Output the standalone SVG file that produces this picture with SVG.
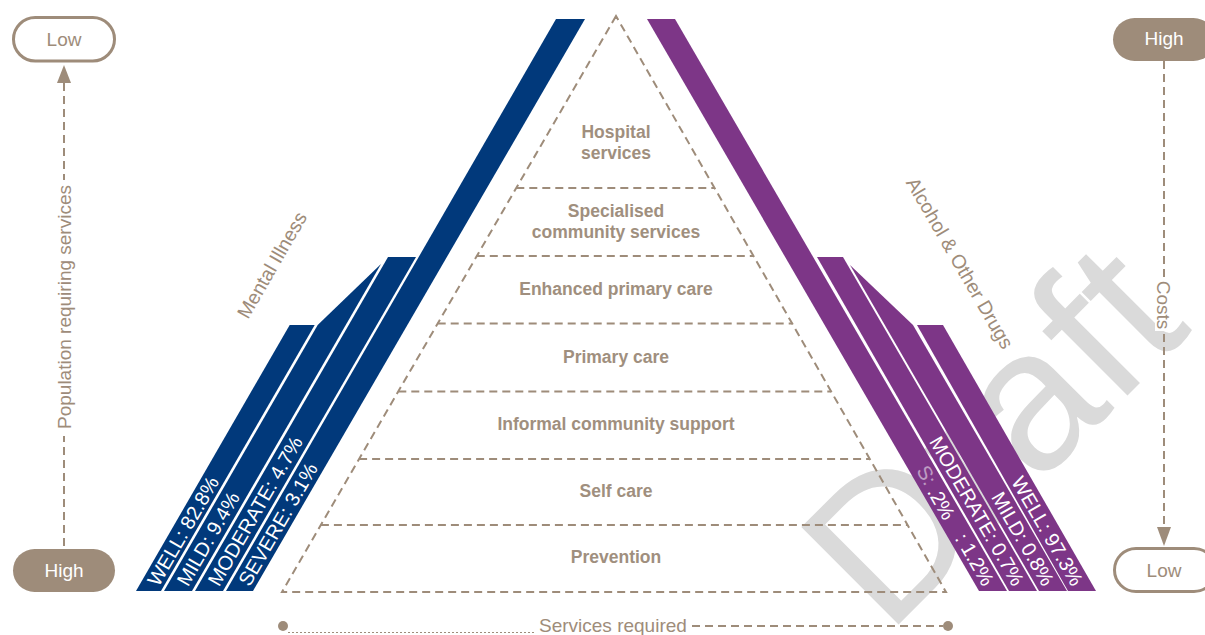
<svg xmlns="http://www.w3.org/2000/svg" width="1205" height="635" viewBox="0 0 1205 635">
<defs>
<style>
.ax{font-family:"Liberation Sans",Arial,sans-serif;font-size:19px;fill:#9e8c7a}
.tier{font-family:"Liberation Sans",Arial,sans-serif;font-size:17.5px;font-weight:bold;fill:#a08f7e;text-anchor:middle}
.dash{fill:none;stroke:#9e8c7a;stroke-width:2;stroke-dasharray:8 5}
.blue{fill:#01397b}
.purple{fill:#7d3687}
.bt{font-family:"Liberation Sans",Arial,sans-serif;font-size:20px;fill:#ffffff}
.wm{font-family:"Liberation Sans",Arial,sans-serif;font-size:200px;fill:#dadada}
</style>
</defs>
<rect width="1205" height="635" fill="#ffffff"/>
<g id="watermark">
<text class="wm" x="887" y="636" transform="rotate(-45 887 636)">Draft</text>
</g>
<g id="pyramid">
<path class="dash" d="M616,16 L282,592 L946,592 Z"/>
<path class="dash" d="M516.3,188H714.5 M476.8,256H753.5 M437.7,323.5H792.2 M398.3,391.5H831.1 M359.1,459H869.8 M320.9,525H907.6"/>
</g>
<g id="tiers">
<text class="tier" x="616" y="138">Hospital</text>
<text class="tier" x="616" y="159">services</text>
<text class="tier" x="616" y="217">Specialised</text>
<text class="tier" x="616" y="238">community services</text>
<text class="tier" x="616" y="295">Enhanced primary care</text>
<text class="tier" x="616" y="363">Primary care</text>
<text class="tier" x="616" y="430">Informal community support</text>
<text class="tier" x="616" y="497">Self care</text>
<text class="tier" x="616" y="563">Prevention</text>
</g>
<g id="mental-illness">
<polygon class="blue" points="136,591 161,591 314.7,325 289.7,325"/>
<polygon class="blue" points="164,591 192,591 381,264 317.7,325"/>
<polygon class="blue" points="195,591 223,591 416,257 388,257"/>
<polygon class="blue" points="226,591 253,591 585,19 556,19"/>
<text class="bt" transform="translate(152.5,584) rotate(-60)" dy="0.35em">WELL: 82.8%</text>
<text class="bt" transform="translate(182,584) rotate(-60)" dy="0.35em">MILD: 9.4%</text>
<text class="bt" transform="translate(213,584) rotate(-60)" dy="0.35em">MODERATE: 4.7%</text>
<text class="bt" transform="translate(243.5,584) rotate(-60)" dy="0.35em">SEVERE: 3.1%</text>
<text class="ax" style="font-size:19.5px" text-anchor="middle" transform="translate(272,265) rotate(-60)" dy="0.35em">Mental Illness</text>
</g>
<g id="alcohol-drugs">
<polygon class="purple" points="647,19 675,19 1007,591 979,591"/>
<polygon class="purple" points="817,257 843,257 1037,591 1009,591"/>
<polygon class="purple" points="850,265 913,325 1067,591 1039,591"/>
<polygon class="purple" points="917,325 943,325 1096,591 1068,591"/>
<text class="bt" text-anchor="end" transform="translate(1078,584) rotate(60)" dy="0.35em">WELL: 97.3%</text>
<text class="bt" text-anchor="end" transform="translate(1049,584) rotate(60)" dy="0.35em">MILD: 0.8%</text>
<text class="bt" text-anchor="end" transform="translate(1019,584) rotate(60)" dy="0.35em">MODERATE: 0.7%</text>
<text class="bt" text-anchor="end" transform="translate(989,584) rotate(60)" dy="0.35em">: 1.2%</text>
<text class="bt" text-anchor="end" transform="translate(950,518) rotate(60)" dy="0.35em">.2%</text>
<text class="bt" style="opacity:0.5" transform="translate(922,467) rotate(60)" dy="0.35em">S:</text>
<text class="ax" style="font-size:19.5px" text-anchor="middle" transform="translate(960,263) rotate(60)" dy="0.35em">Alcohol &amp; Other Drugs</text>
</g>
<g id="connectors">
<line class="dash" x1="64" y1="83" x2="64" y2="549"/>
<polygon points="64,65 57,83 71,83" fill="#9e8c7a"/>
<line class="dash" x1="1164" y1="61" x2="1164" y2="527"/>
<polygon points="1164,546 1157,527 1171,527" fill="#9e8c7a"/>
<line x1="288" y1="632.5" x2="536" y2="632.5" stroke="#9e8c7a" stroke-width="1" stroke-dasharray="2 2"/>
<line class="dash" x1="692" y1="626" x2="943" y2="626"/>
<circle cx="283" cy="626" r="5" fill="#9e8c7a"/>
<circle cx="948" cy="626" r="5" fill="#9e8c7a"/>
</g>
<g id="axis-population">
<rect x="55" y="180" width="18" height="256" fill="#ffffff"/>
<text class="ax" text-anchor="middle" transform="translate(64,307) rotate(-90)" dy="0.35em">Population requiring services</text>
</g>
<g id="axis-costs">
<rect x="1155" y="279" width="18" height="52" fill="#ffffff"/>
<text class="ax" text-anchor="middle" transform="translate(1164,305) rotate(90)" dy="0.35em">Costs</text>
</g>
<g id="axis-services">
<text class="ax" x="539" y="632">Services required</text>
</g>
<g id="left-low">
<rect x="13.5" y="17.5" width="101" height="43.5" rx="21.75" fill="#ffffff" stroke="#9e8c7a" stroke-width="3"/>
<text class="ax" x="64" y="46" text-anchor="middle">Low</text>
</g>
<g id="left-high">
<rect x="13" y="549" width="102" height="43" rx="21.5" fill="#9e8c7a"/>
<text class="ax" x="64" y="577" text-anchor="middle" style="fill:#ffffff">High</text>
</g>
<g id="right-high">
<rect x="1113" y="18" width="102" height="43" rx="21.5" fill="#9e8c7a"/>
<text class="ax" x="1164" y="45" text-anchor="middle" style="fill:#ffffff">High</text>
</g>
<g id="right-low">
<rect x="1114.5" y="548.5" width="101" height="43" rx="21.5" fill="#ffffff" stroke="#9e8c7a" stroke-width="3"/>
<text class="ax" x="1164" y="577" text-anchor="middle">Low</text>
</g>
</svg>
